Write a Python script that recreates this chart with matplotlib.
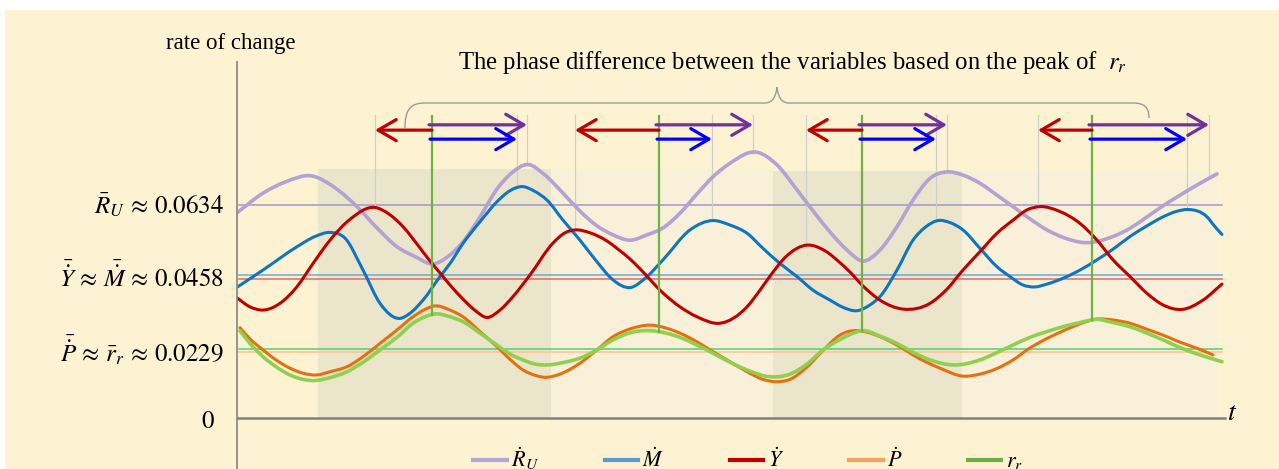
import numpy as np
import matplotlib
matplotlib.use('Agg')
import matplotlib.pyplot as plt
from matplotlib.lines import Line2D
from matplotlib.patches import Rectangle, PathPatch
from matplotlib.path import Path
from matplotlib.transforms import blended_transform_factory

plt.rcParams['font.family'] = ['Liberation Serif', 'DejaVu Serif']
plt.rcParams['mathtext.fontset'] = 'stix'

# ---- data: rate of change of each variable over time (schematic cycle) ----
t_RU = [0, 2.6, 4.8, 7.5, 9.8, 12.0, 14.0, 16.0, 17.8, 19.6, 21.3, 22.6, 24.3, 26.0, 27.5,
        29.1, 30.8, 32.6, 34.3, 36.0, 37.6, 39.3, 41.0, 42.6, 44.3, 46.0, 47.6, 49.3, 52.0,
        54.0, 56.0, 58.0, 59.3, 61.0, 62.6, 64.3, 66.0, 67.6, 69.3, 71.0, 72.6, 74.3, 76.0,
        77.6, 79.3, 81.0, 82.6, 84.8, 87.6, 89.3, 91.0, 92.6, 94.3, 96.3, 98.0]
RU = [0.0615, 0.0663, 0.0690, 0.0705, 0.0676, 0.0630, 0.0578, 0.0532, 0.0508, 0.0490, 0.0512,
      0.0544, 0.0605, 0.0673, 0.0713, 0.0733, 0.0707, 0.0663, 0.0619, 0.0583, 0.0561, 0.0548,
      0.0561, 0.0578, 0.0614, 0.0661, 0.0703, 0.0736, 0.0763, 0.0732, 0.0671, 0.0607, 0.0568,
      0.0524, 0.0497, 0.0524, 0.0581, 0.0646, 0.0699, 0.0715, 0.0707, 0.0687, 0.0658, 0.0630,
      0.0600, 0.0573, 0.0555, 0.0542, 0.0557, 0.0577, 0.0605, 0.0632, 0.0658, 0.0687, 0.0710]

t_M = [0, 2.6, 6.0, 7.8, 9.3, 10.8, 12.6, 14.3, 16.3, 17.3, 18.6, 20.3, 21.3, 22.6, 24.3, 26.0,
       27.3, 28.5, 29.8, 31.0, 32.6, 34.3, 36.0, 37.6, 39.3, 41.0, 42.6, 45.3, 47.6, 49.3, 51.0,
       52.6, 54.3, 56.0, 57.6, 59.3, 60.5, 62.0, 63.3, 64.3, 66.0, 67.6, 68.9, 70.1, 71.3, 72.6,
       74.3, 76.0, 77.3, 78.6, 79.8, 81.0, 82.6, 84.3, 86.0, 87.6, 89.3, 91.0, 92.6, 93.9, 95.1,
       97.0, 97.8, 98.5]
M = [0.0426, 0.0475, 0.0532, 0.0557, 0.0567, 0.0553, 0.0475, 0.0376, 0.0329, 0.0345, 0.0386,
     0.0459, 0.0491, 0.0540, 0.0593, 0.0642, 0.0669, 0.0679, 0.0667, 0.0646, 0.0597, 0.0548,
     0.0495, 0.0449, 0.0425, 0.0459, 0.0500, 0.0573, 0.0596, 0.0585, 0.0565, 0.0528, 0.0491,
     0.0459, 0.0417, 0.0386, 0.0365, 0.0353, 0.0371, 0.0397, 0.0475, 0.0548, 0.0581, 0.0596,
     0.0591, 0.0573, 0.0528, 0.0483, 0.0459, 0.0433, 0.0427, 0.0436, 0.0454, 0.0475, 0.0500,
     0.0526, 0.0557, 0.0583, 0.0605, 0.0618, 0.0623, 0.0605, 0.0581, 0.0562]

t_Y = [0, 1.3, 2.6, 4.3, 6.0, 7.6, 9.3, 11.3, 13.8, 15.3, 16.6, 18.3, 19.3, 20.3, 21.3, 22.6,
       23.8, 25.0, 26.3, 27.6, 29.3, 31.6, 32.8, 33.8, 35.3, 37.0, 38.1, 39.3, 40.3, 42.6, 44.3,
       46.0, 48.3, 51.0, 52.3, 53.3, 54.9, 57.0, 58.8, 60.3, 61.3, 62.6, 64.3, 66.6, 69.3, 70.9,
       72.6, 74.3, 76.0, 77.6, 79.0, 80.3, 82.3, 84.3, 86.0, 87.6, 89.3, 91.0, 92.6, 94.5, 96.6,
       98.5]
Y = [0.0393, 0.0365, 0.0355, 0.0376, 0.0428, 0.0491, 0.0548, 0.0599, 0.0628, 0.0610, 0.0581,
     0.0529, 0.0497, 0.0468, 0.0433, 0.0389, 0.0354, 0.0332, 0.0355, 0.0397, 0.0463, 0.0541,
     0.0566, 0.0573, 0.0566, 0.0546, 0.0526, 0.0502, 0.0478, 0.0408, 0.0365, 0.0334, 0.0314,
     0.0365, 0.0417, 0.0460, 0.0508, 0.0536, 0.0522, 0.0493, 0.0470, 0.0430, 0.0386, 0.0358,
     0.0376, 0.0417, 0.0475, 0.0520, 0.0565, 0.0597, 0.0622, 0.0630, 0.0618, 0.0589, 0.0548,
     0.0500, 0.0459, 0.0407, 0.0371, 0.0357, 0.0386, 0.0436]

t_P = [0.3, 1.3, 2.6, 3.9, 5.3, 6.6, 8.0, 9.3, 11.0, 12.6, 14.3, 16.0, 17.6, 18.8, 19.8, 21.3,
       22.6, 24.3, 26.0, 27.3, 28.6, 29.8, 30.8, 32.3, 34.3, 36.0, 37.6, 39.3, 41.3, 42.8, 44.3,
       46.0, 47.6, 49.3, 51.0, 52.6, 54.0, 55.3, 57.0, 58.6, 60.3, 61.1, 61.8, 63.0, 64.3, 66.0,
       67.6, 68.9, 70.3, 72.6, 74.3, 76.0, 77.6, 79.3, 80.3, 82.6, 84.3, 86.0, 87.6, 89.3, 91.0,
       92.6, 94.3, 96.0, 97.6]
P = [0.0300, 0.0265, 0.0231, 0.0197, 0.0169, 0.0152, 0.0146, 0.0157, 0.0174, 0.0208, 0.0251,
     0.0293, 0.0334, 0.0357, 0.0368, 0.0355, 0.0334, 0.0288, 0.0241, 0.0199, 0.0163, 0.0145,
     0.0138, 0.0149, 0.0186, 0.0231, 0.0272, 0.0296, 0.0308, 0.0300, 0.0283, 0.0256, 0.0225,
     0.0191, 0.0157, 0.0131, 0.0123, 0.0131, 0.0173, 0.0229, 0.0277, 0.0288, 0.0291, 0.0286,
     0.0272, 0.0246, 0.0214, 0.0190, 0.0169, 0.0142, 0.0149, 0.0168, 0.0197, 0.0237, 0.0255,
     0.0290, 0.0312, 0.0327, 0.0324, 0.0314, 0.0295, 0.0277, 0.0255, 0.0236, 0.0214]

t_r = [0.3, 1.3, 2.6, 3.9, 5.3, 6.6, 7.8, 9.3, 11.0, 12.6, 14.3, 16.0, 17.6, 18.8, 19.8, 21.3,
       22.6, 24.3, 26.0, 27.3, 28.6, 29.8, 31.0, 32.6, 34.3, 36.0, 37.6, 39.3, 41.3, 42.8, 44.3,
       46.0, 47.6, 49.3, 51.0, 53.3, 55.3, 57.0, 58.6, 60.3, 61.3, 62.6, 64.3, 66.0, 67.6, 69.3,
       71.6, 74.3, 76.0, 77.6, 79.3, 81.0, 82.6, 84.3, 86.0, 87.6, 89.3, 91.0, 92.6, 94.3, 96.3,
       98.5]
r = [0.0290, 0.0251, 0.0208, 0.0174, 0.0146, 0.0131, 0.0127, 0.0137, 0.0157, 0.0189, 0.0231,
     0.0270, 0.0314, 0.0334, 0.0343, 0.0334, 0.0319, 0.0283, 0.0246, 0.0217, 0.0197, 0.0183,
     0.0180, 0.0188, 0.0203, 0.0231, 0.0262, 0.0284, 0.0291, 0.0284, 0.0270, 0.0246, 0.0220,
     0.0189, 0.0163, 0.0140, 0.0149, 0.0183, 0.0231, 0.0263, 0.0279, 0.0291, 0.0274, 0.0251,
     0.0223, 0.0197, 0.0180, 0.0197, 0.0222, 0.0246, 0.0270, 0.0288, 0.0303, 0.0316, 0.0326,
     0.0316, 0.0303, 0.0283, 0.0262, 0.0238, 0.0214, 0.0191]

# long-run averages
mean_RU, mean_M, mean_Y, mean_r, mean_P = 0.0634, 0.0463, 0.0452, 0.0234, 0.0224

# peaks of r_r and the nearest peaks of the other variables
r_peaks = [19.5, 42.2, 62.5, 85.5]
Y_peaks = [13.8, 33.8, 56.9, 80.1]
RU_peaks = [29.0, 51.6, 71.0, 97.2]
M_peaks = [28.0, 47.5, 69.9, 95.0]

tick_vals = [0, 0.0229, 0.0458, 0.0634]
tick_text = [r'$0$',
             r'$\bar{\dot{P}}\,\approx\,\bar{r}_r\,\approx\,0.0229$',
             r'$\bar{\dot{Y}}\,\approx\,\bar{\dot{M}}\,\approx\,0.0458$',
             r'$\bar{R}_U\,\approx\,0.0634$']

legend_labels = [r'$\dot{R}_U$', r'$\dot{M}$', r'$\dot{Y}$', r'$\dot{P}$', r'$r_r$']

# ---- colours ----
c_RU, c_M, c_Y, c_P, c_r = '#b3a2d3', '#0f75c2', '#c00000', '#e5700f', '#8fd14f'
bg, band_dark, band_light = '#fdf3d3', '#ebe5cb', '#f8f0d8'

W, H = 1279, 469
fig = plt.figure(figsize=(W / 100, H / 100), dpi=100)


def fp(x, y):
    # pixel position measured from the top-left corner -> figure fraction
    return x / W, 1 - y / H


fig.patches.append(Rectangle(fp(5, 469), (W - 5) / W, 459 / H, transform=fig.transFigure,
                             facecolor=bg, edgecolor='none', zorder=-5))

ax = fig.add_axes([237 / W, 0, (1230 - 237) / W, (469 - 60) / H])
ax.set_facecolor('none')
ax.axis('off')

# the value axis is not to scale: the labelled levels are spaced evenly-ish
tick_gap = [67.5, 73.5, 72.0]
s0 = tick_gap[0] / tick_vals[1]
s1 = tick_gap[-1] / (tick_vals[3] - tick_vals[2])
h_mid = np.concatenate([[0], np.cumsum(tick_gap)])
h_nodes = np.concatenate([[-0.1 * s0], h_mid, [h_mid[-1] + (0.2 - tick_vals[-1]) * s1]])
v_nodes = np.array([-0.1] + tick_vals + [0.2])


def fwd(v):
    return np.interp(v, v_nodes, h_nodes)


def inv(h):
    return np.interp(h, h_nodes, v_nodes)


ax.set_yscale('function', functions=(fwd, inv))
ax.set_xlim(0, 99.3)
ax.set_ylim(inv(-51), inv(358))


def smooth_line(tt, vv, color, lw, z):
    # smoothed line (cubic Hermite segments through the given points)
    x = np.asarray(tt, float)
    h = fwd(np.asarray(vv, float))
    d = np.gradient(h, x)
    verts = [(x[0], h[0])]
    codes = [Path.MOVETO]
    for i in range(len(x) - 1):
        dt = x[i + 1] - x[i]
        verts += [(x[i] + dt / 3, h[i] + d[i] * dt / 3),
                  (x[i + 1] - dt / 3, h[i + 1] - d[i + 1] * dt / 3),
                  (x[i + 1], h[i + 1])]
        codes += [Path.CURVE4] * 3
    verts = np.array(verts)
    verts[:, 1] = inv(verts[:, 1])
    ax.add_patch(PathPatch(Path(verts, codes), facecolor='none', edgecolor=color, lw=lw,
                           zorder=z, capstyle='round', joinstyle='round'))


# shaded half-cycles
band_edges = [8.1, 31.4, 53.6, 72.5, 98.1]
band_cols = [band_dark, band_light, band_dark, band_light]
band_top = [0.0722, 0.0722, 0.0717, 0.0717]
band_bot = [0, inv(-5), 0, inv(-5)]
for i in range(4):
    ax.fill_between([band_edges[i], band_edges[i + 1]], band_bot[i], band_top[i],
                    color=band_cols[i], lw=0, zorder=1)

# average levels
for m, c in [(mean_RU, '#a597c9'), (mean_M, '#6aaad8'), (mean_Y, '#e26a6a'),
             (mean_r, '#5ccc6e'), (mean_P, '#f8c497')]:
    ax.plot([0.2, 98.5], [m, m], color=c, lw=1.1, zorder=2)

# thin guides from the arrow heads down to the peaks
guide_top = 0.0854
for peaks, tt, vv in [(Y_peaks, t_Y, Y), (RU_peaks, t_RU, RU), (M_peaks, t_M, M)]:
    for p in peaks:
        ax.plot([p, p], [np.interp(p, tt, vv), guide_top], color='#cfcfcf', lw=0.9, zorder=2.5)

smooth_line(t_RU, RU, c_RU, 2.6, 3)
smooth_line(t_M, M, c_M, 2.2, 3)
smooth_line(t_Y, Y, c_Y, 2.2, 3)
smooth_line(t_P, P, c_P, 2.2, 3)
smooth_line(t_r, r, c_r, 2.6, 3.1)

# vertical markers at the r_r peaks
for p in r_peaks:
    ax.plot([p, p], [np.interp(p, t_r, r), 0.0852], color='#72b243', lw=1.6, zorder=5)


def arrow(x0, x1, y, c):
    ax.annotate('', xy=(x1, y), xytext=(x0, y),
                arrowprops=dict(arrowstyle='->,head_length=0.65,head_width=0.38', color=c,
                                lw=2.3, shrinkA=0, shrinkB=0, mutation_scale=20), zorder=6)


for i, p in enumerate(r_peaks):
    arrow(p, Y_peaks[i], 0.0817, '#c00000')
    arrow(p - 0.3, RU_peaks[i], 0.0830, '#7030a0')
    arrow(p - 0.2, M_peaks[i], 0.0795, '#0000ff')

# axes lines
ax.plot([0, 0], [inv(-60), inv(356)], color='#8c8c8c', lw=1.3, clip_on=False, zorder=4)
ax.plot([0, 98.8], [0, 0], color='#7f7f7f', lw=1.8, zorder=4)
ax.text(99.0, inv(5), r'$t$', fontsize=20, ha='left', va='center')

# level labels
tr = blended_transform_factory(fig.transFigure, ax.transData)
for v, s in zip(tick_vals, tick_text):
    if v == 0:
        ax.text(215 / W, inv(-4), s, transform=tr, ha='right', va='center', fontsize=18)
    else:
        ax.text(224 / W, v, s, transform=tr, ha='right', va='center', fontsize=18)

fig.text(*fp(231, 43), 'rate of change', ha='center', va='center', fontsize=16.5)
fig.text(*fp(792, 63), 'The phase difference between the variables based on the peak of  $r_r$',
         ha='center', va='center', fontsize=17.8)

# curly brace under the heading
brace_px = [(405, 128), (405, 110), (410, 103), (425, 103), (765, 103), (773, 103), (776, 96),
            (777, 87), (778, 96), (781, 103), (789, 103), (1133, 103), (1145, 103), (1149, 108),
            (1149, 118)]
codes = [Path.MOVETO, Path.CURVE4, Path.CURVE4, Path.CURVE4, Path.LINETO, Path.CURVE4,
         Path.CURVE4, Path.CURVE4, Path.CURVE4, Path.CURVE4, Path.CURVE4, Path.LINETO,
         Path.CURVE4, Path.CURVE4, Path.CURVE4]
brace = Path([fp(x, y) for x, y in brace_px], codes)
fig.patches.append(PathPatch(brace, transform=fig.transFigure, facecolor='none',
                             edgecolor='#9a9a9a', lw=1.0, zorder=2))

handles = [Line2D([], [], color=c, lw=3) for c in ['#b4a7d6', '#5b9bd5', '#c00000', '#f4a460', '#70ad47']]
fig.legend(handles, legend_labels, loc='center', bbox_to_anchor=fp(748, 459), ncol=5,
           frameon=False, fontsize=16, handlelength=1.5, handletextpad=0.2, columnspacing=2.95)

fig.savefig('out.png', dpi=100, facecolor='white')
